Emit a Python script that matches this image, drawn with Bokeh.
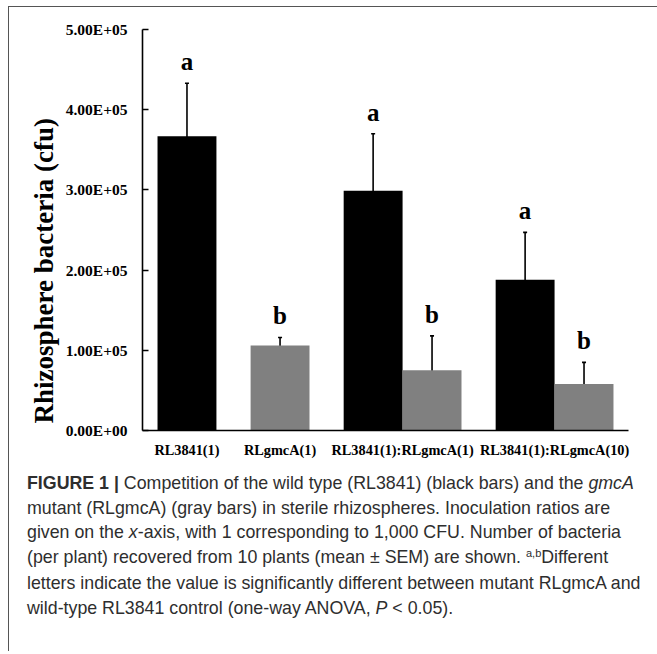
from bokeh.plotting import figure
from bokeh.models import (FactorRange, Range1d, FixedTicker, Whisker, ColumnDataSource,
                          LabelSet, Title, Div, TeeHead)
from bokeh.transform import factor_cmap
from bokeh.layouts import column
from bokeh.embed import file_html
from bokeh.resources import INLINE

# ---- data ----
bar_groups = ["RL3841(1)", "RLgmcA(1)", "RL3841(1):RLgmcA(1)", "RL3841(1):RLgmcA(1)",
              "RL3841(1):RLgmcA(10)", "RL3841(1):RLgmcA(10)"]
bar_strains = ["RL3841", "RLgmcA", "RL3841", "RLgmcA", "RL3841", "RLgmcA"]
means = [3.67e5, 1.06e5, 2.99e5, 0.75e5, 1.88e5, 0.58e5]
sems = [0.66e5, 0.10e5, 0.71e5, 0.43e5, 0.59e5, 0.27e5]
letters = ["a", "b", "a", "b", "a", "b"]
strains = ["RL3841", "RLgmcA"]
strain_colors = ["#000000", "#808080"]
y_ticks = [0, 1e5, 2e5, 3e5, 4e5, 5e5]
y_tick_labels = ["0.00E+00", "1.00E+05", "2.00E+05", "3.00E+05", "4.00E+05", "5.00E+05"]
y_title = "Rhizosphere bacteria (cfu)"

factors = list(zip(bar_groups, bar_strains))
src = ColumnDataSource(dict(
    x=factors, strain=bar_strains, mean=means,
    upper=[m + s for m, s in zip(means, sems)],
    lower=[m - s for m, s in zip(means, sems)],
    letter=letters,
))

SERIF = "Liberation Serif"

p = figure(width=640, height=455, output_backend="svg", toolbar_location=None,
           x_range=FactorRange(factors=factors, group_padding=0.58, factor_padding=0.0,
                               range_padding=0.255, range_padding_units="absolute"),
           y_range=Range1d(0, 5e5),
           min_border_left=133, min_border_right=21, min_border_top=22, min_border_bottom=32)
p.outline_line_color = None
p.xgrid.grid_line_color = None
p.ygrid.grid_line_color = None
p.background_fill_color = "white"
p.border_fill_color = "white"

p.vbar(x="x", top="mean", width=1.0, source=src, line_color=None,
       fill_color=factor_cmap("x", palette=strain_colors, factors=strains, start=1, end=2))

wh = Whisker(source=src, base="x", upper="upper", lower="lower", dimension="height",
             line_color="black", line_width=1.6,
             upper_head=TeeHead(size=4, line_color="black", line_width=1.6),
             lower_head=TeeHead(size=4, line_color="black", line_width=1.6))
p.add_layout(wh)

labels = LabelSet(source=src, x="x", y="upper", text="letter", y_offset=13,
                  text_align="center", text_baseline="alphabetic",
                  text_font=SERIF, text_font_style="bold", text_font_size="25px",
                  text_color="black")
p.add_layout(labels)

# y axis
ya = p.yaxis[0]
ya.ticker = FixedTicker(ticks=y_ticks)
ya.major_label_overrides = {t: l for t, l in zip(y_ticks, y_tick_labels)}
ya.major_label_text_font = SERIF
ya.major_label_text_font_style = "bold"
ya.major_label_text_font_size = "15.5px"
ya.major_label_text_color = "black"
ya.major_label_standoff = 15
ya.major_tick_in = 6
ya.major_tick_out = 0
ya.minor_tick_line_color = None
ya.axis_line_color = "black"
ya.axis_line_width = 1.6
ya.major_tick_line_color = "black"
ya.major_tick_line_width = 1.6

# x axis: only the group (category) labels are shown
xa = p.xaxis[0]
xa.major_label_text_font_size = "1px"
xa.major_label_text_color = None
xa.major_tick_line_color = None
xa.minor_tick_line_color = None
xa.separator_line_alpha = 0
xa.group_text_font = SERIF
xa.group_text_font_style = "bold"
xa.group_text_font_size = "14.3px"
xa.group_text_color = "black"
xa.axis_line_color = "black"
xa.axis_line_width = 1.6

ytitle = Title(text=y_title, align="left", offset=7, standoff=8,
               text_font=SERIF, text_font_style="bold", text_font_size="27px",
               text_color="black")
p.add_layout(ytitle, "left")

caption = (
    '<div style="padding:4px 0 0 13px; white-space:nowrap; font-family:\'Liberation Sans\', Arial, sans-serif;'
    ' font-size:17.8px; line-height:24.6px; color:#2e2e2e;">'
    '<b>FIGURE 1 |</b> Competition of the wild type (RL3841) (black bars) and the <i>gmcA</i><br>'
    'mutant (RLgmcA) (gray bars) in sterile rhizospheres. Inoculation ratios are<br>'
    'given on the <i>x</i>-axis, with 1 corresponding to 1,000 CFU. Number of bacteria<br>'
    '(per plant) recovered from 10 plants (mean &plusmn; SEM) are shown. '
    '<span style="font-size:11px; position:relative; top:-6px;">a,b</span>Different<br>'
    'letters indicate the value is significantly different between mutant RLgmcA and<br>'
    'wild-type RL3841 control (one-way ANOVA, <i>P</i> &lt; 0.05).'
    '</div>'
)
div = Div(text=caption, width=640, height=180)

layout = column(p, div, spacing=0,
                styles={"margin-left": "9px", "margin-top": "7px",
                        "box-shadow": "-1px -1px 0 0 #555"})

open("out.html", "w").write(file_html(layout, INLINE))
